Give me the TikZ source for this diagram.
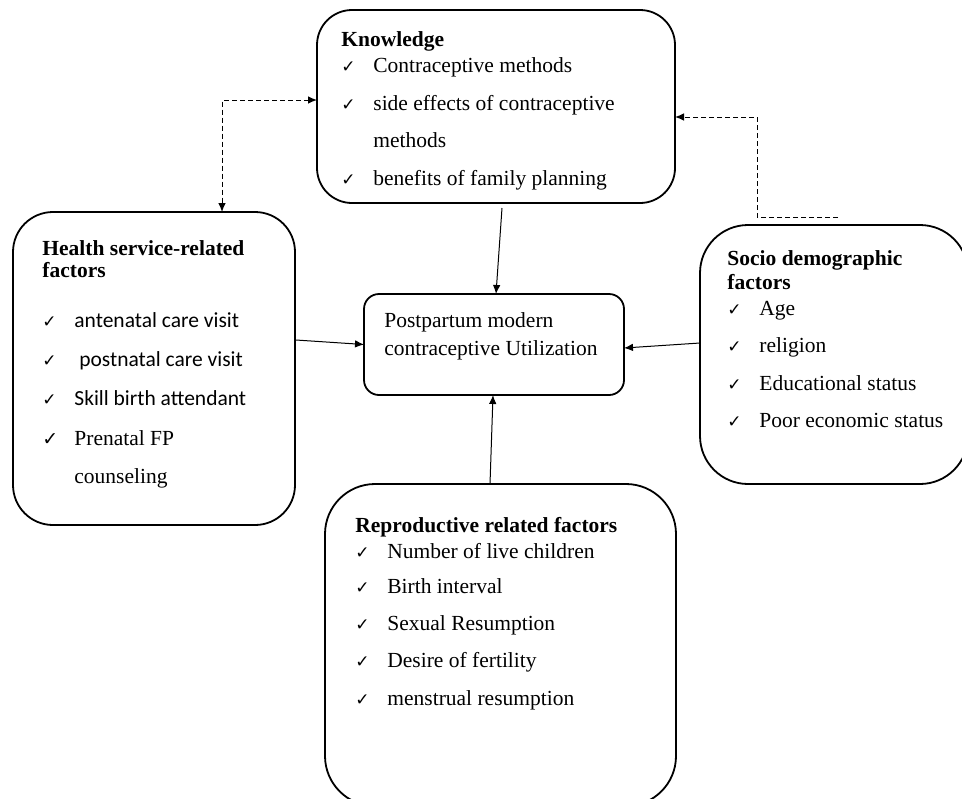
\documentclass[tikz,border=0pt]{standalone}
\usepackage{fontspec}
\setmainfont{Liberation Serif}
\newfontfamily\calib{Carlito}
\newfontfamily\chk{DejaVu Sans}
\usetikzlibrary{arrows.meta}
\newcommand{\ck}{\makebox[16pt][l]{\chk\fontsize{8.5}{8.5}\selectfont ✓}}
\newcommand{\ckb}{\makebox[16pt][l]{\chk\bfseries\fontsize{9.5}{9.5}\selectfont ✓}}
\newcommand{\nock}{\makebox[16pt]{}}
\begin{document}
\begin{tikzpicture}[x=0.5pt,y=-0.5pt,
  box/.style={draw,line width=0.9pt,inner sep=0pt,outer sep=0pt},
  txt/.style={anchor=base west,align=left,inner sep=0pt,font=\fontsize{10.75}{13}\selectfont},
  link/.style={line width=0.5pt,-{Latex[length=4.5pt,width=3.8pt]}},
  dashlink/.style={line width=0.5pt,dash pattern=on 2.5pt off 1.5pt}]
  \useasboundingbox (0,0) rectangle (962,798);
  \clip (0,0) rectangle (962,798);
  % boxes
  \node[box,rounded corners=17.5pt,minimum width=179pt,minimum height=96.5pt] (know) at (496,106.5) {};
  \node[box,rounded corners=20pt,minimum width=141pt,minimum height=156.5pt] (health) at (154,368.5) {};
  \node[box,rounded corners=24pt,minimum width=134pt,minimum height=129.5pt] (socio) at (834,354.5) {};
  \node[box,rounded corners=7.5pt,minimum width=130pt,minimum height=50.5pt] (util) at (494,344.5) {};
  \node[box,rounded corners=25pt,minimum width=175.5pt,minimum height=161pt] (repro) at (500.5,645) {};
  % texts (placed at the baseline of their last line)
  \node[txt] (knowtxt) at (341,185) {\textbf{Knowledge}\\
    \ck Contraceptive methods\\[5.75pt]
    \ck side effects of contraceptive\\[5.75pt]
    \nock methods\\[5.75pt]
    \ck benefits of family planning};
  \node[txt] (healthtxt) at (42,483) {\textbf{Health service-related}\\[-2pt]
    \textbf{factors}\\[12pt]
    \ck{\calib antenatal care visit}\\[6.5pt]
    \ck{\calib\ postnatal care visit}\\[6.5pt]
    \ck{\calib Skill birth attendant}\\[7pt]
    \ckb Prenatal FP\\[6pt]
    \nock counseling};
  \node[txt] (sociotxt) at (727,427) {\textbf{Socio demographic}\\[-1pt]
    \textbf{factors}\\
    \ck Age\\[5.5pt]
    \ck religion\\[5.75pt]
    \ck Educational status\\[5.5pt]
    \ck Poor economic status};
  \node[txt] (utiltxt) at (384,355) {Postpartum modern\\[1pt]
    contraceptive Utilization};
  \node[txt] (reprotxt) at (355,705) {\textbf{Reproductive related factors}\\
    \ck Number of live children\\[4.5pt]
    \ck Birth interval\\[5.5pt]
    \ck Sexual Resumption\\[5.5pt]
    \ck Desire of fertility\\[6pt]
    \ck menstrual resumption};
  % connectors
  \draw[link] ([shift={(6,5)}]know.south) -- ([shift={(2,0)}]util.north);
  \draw[link] ([shift={(1,-28.5)}]health.east) -- (util.west);
  \draw[link] ([shift={(0,-11.5)}]socio.west) -- ([shift={(0,3.5)}]util.east);
  \draw[link] ([shift={(-10.5,0)}]repro.north) -- ([shift={(-1,0)}]util.south);
  \draw[dashlink,{Latex[length=4.5pt,width=3.8pt]}-{Latex[length=4.5pt,width=3.8pt]}]
    ([shift={(0,-6.5)}]know.west) -| ([shift={(68,0)}]health.north);
  \coordinate (dashend) at (838,217);
  \coordinate (dashbend) at (757,217);
  \draw[dashlink,-{Latex[length=4.5pt,width=3.8pt]}] (dashend) -- (dashbend) |- ([shift={(0,10.5)}]know.east);
\end{tikzpicture}
\end{document}
